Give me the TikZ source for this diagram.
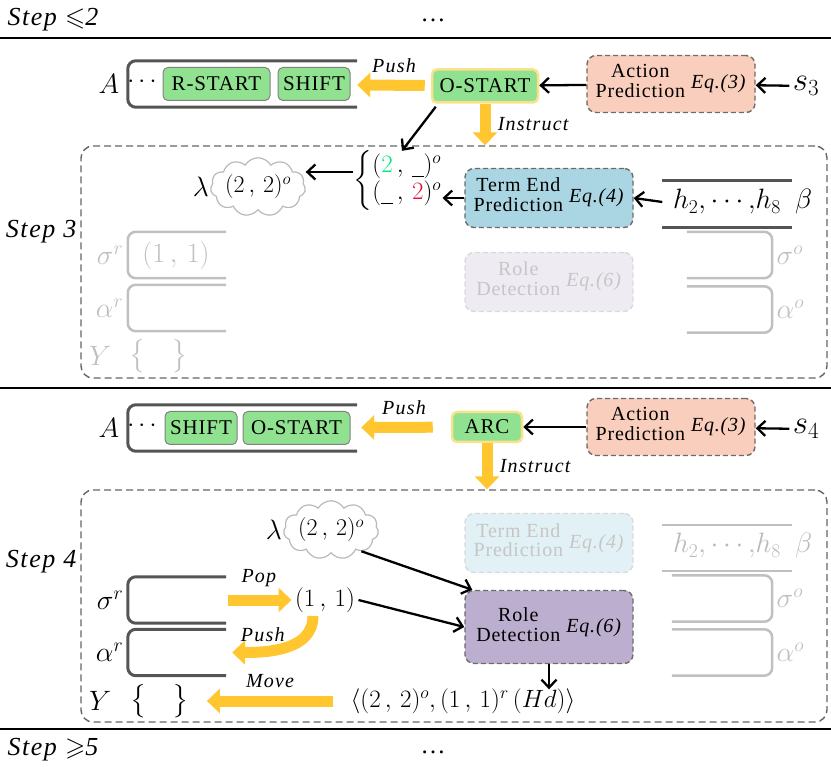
\RequirePackage{fix-cm}
\documentclass[tikz,border=0pt]{standalone}
\usepackage{amsmath,amssymb}
\usepackage{fontspec}
\setmainfont{Liberation Serif}
\newfontfamily\boxfont[LetterSpace=4]{Liberation Serif}
\newfontfamily\verbfont[LetterSpace=6]{Liberation Serif}
\definecolor{ActGreen}{RGB}{144,226,144}
\definecolor{PushGold}{RGB}{255,198,48}
\definecolor{GlowYellow}{RGB}{250,226,140}
\definecolor{ActSalmon}{RGB}{249,206,188}
\definecolor{TermBlue}{RGB}{170,214,228}
\definecolor{RolePurple}{RGB}{188,174,206}
\definecolor{FrameGray}{RGB}{85,85,85}
\definecolor{FadeGray}{RGB}{192,192,192}
\definecolor{SpringGreen}{RGB}{0,232,120}
\definecolor{CrimsonRed}{RGB}{225,20,60}
\usetikzlibrary{arrows.meta,positioning,shapes.symbols}
\newcommand{\modtext}[2]{\begin{tabular}{@{}c@{}}#1\end{tabular}\hspace{6pt}\textit{#2}}
\newcommand{\pc}{\,,\,}
\tikzset{
  actbox/.style={draw=gray, fill=ActGreen, rounded corners=5pt, line width=1pt,
    inner sep=1pt, minimum height=33pt, font=\boxfont\fontsize{21}{22}\selectfont},
  curbox/.style={actbox, draw=GlowYellow, line width=2.5pt},
  modbox/.style={draw=gray!85!black, dash pattern=on 5pt off 3pt, rounded corners=9pt,
    line width=1.4pt, minimum width=168pt, minimum height=59pt, inner sep=0pt,
    font=\boxfont\fontsize{20}{20}\selectfont},
  fadebox/.style={modbox, draw=gray!30, text=gray!45},
  stepframe/.style={draw=gray!80!black, dash pattern=on 7pt off 4pt, rounded corners=12pt,
    line width=1.4pt, minimum width=746pt, minimum height=232pt},
  stackline/.style={draw=FrameGray, line width=3pt, rounded corners=8pt},
  fadestack/.style={draw=FadeGray, line width=2.5pt, rounded corners=8pt},
  stackbox/.style={minimum width=98pt, minimum height=46pt, inner sep=0pt},
  yarrow/.style={draw=PushGold, line width=11pt, -{Triangle[width=24pt,length=13pt]}},
  karrow/.style={draw=black, line width=2.3pt, -{Straight Barb[length=8pt,width=15pt]}},
  steplabel/.style={font=\verbfont\fontsize{26}{28}\selectfont\itshape},
  verb/.style={font=\verbfont\fontsize{20}{22}\selectfont\itshape},
  mathtext/.style={font=\fontsize{25}{27}\selectfont},
  bigmath/.style={font=\fontsize{28}{30}\selectfont},
  hugemath/.style={font=\fontsize{33}{35}\selectfont},
  cloudbox/.style={cloud, cloud puffs=11, cloud puff arc=120, aspect=1.9, draw=gray!55,
    line width=1.2pt, inner sep=-2pt, minimum width=95pt, minimum height=50pt,
    font=\fontsize{24}{26}\selectfont},
}

\begin{document}
\begin{tikzpicture}[x=1pt,y=-1pt]
\useasboundingbox (0,0) rectangle (831,767);

% separators between the steps
\draw[line width=2.5pt] (0,38) -- (831,38);
\draw[line width=2.5pt] (0,388) -- (831,388);
\draw[line width=2.5pt] (0,729) -- (831,729);
\node[steplabel, anchor=west] (step2) at (4,20) {Step \(\leqslant\)2};
\node[mathtext, anchor=base] (dots2) at (433,22) {\dots};
\node[steplabel, anchor=west] (step5) at (4,750) {Step \(\geqslant\)5};
\node[mathtext, anchor=base] (dots5) at (433,753) {\dots};

% ---------- step 3 ----------
\node[stackbox, minimum width=229pt] (stackA3) at (242.5,84) {};
\draw[stackline] (stackA3.north east) -- (stackA3.north west) -- (stackA3.south west) -- (stackA3.south east);
\node[bigmath, left=5pt of stackA3] (labA3) {$A$};
\node[mathtext] (dotsA3) at (144,82) {$\cdots$};
\node[actbox, minimum width=107pt] (rs3) at (216.5,84) {R-START};
\node[actbox, minimum width=72pt] (sh3) at (314,84) {SHIFT};
\node[curbox, minimum width=106pt] (ost3) at (485,86) {O-START};
\node[modbox, fill=ActSalmon, minimum height=57pt] (ap3) at (671,84) {\modtext{Action\\Prediction}{Eq.(3)}};
\node[hugemath] (s3) at (806,86) {$s_3$};
\draw[karrow] (s3) -- (ap3);
\draw[karrow] (ap3) -- (ost3);
\draw[yarrow, shorten <=6pt] (ost3) -- node[above=4pt, verb] (push3) {Push} (stackA3);

\node[stepframe] (frame3) at (454,262) {};
\node[steplabel, anchor=east] (step3) at (80,232) {Step 3};
\draw[yarrow] (ost3.south) -- node[right=4pt, verb] (instr3) {Instruct} (ost3.south |- frame3.north);

\node[mathtext, inner sep=0pt] (ends3) at (398,181) {$\left\{\begin{array}{@{}l@{}}(\textcolor{SpringGreen}{2}\pc\underline{\hphantom{2}})^o\\(\underline{\hphantom{2}}\pc\textcolor{CrimsonRed}{2})^o\end{array}\right.$};
\draw[karrow] ([xshift=5pt,yshift=-3pt]ost3.south west) -- ([xshift=4pt]ends3.north);
\node[cloudbox] (cl3) at (258,187) {$(2\pc 2)^o$};
\node[bigmath, left=-2pt of cl3] (lam3) {$\lambda$};
\draw[karrow] ([yshift=9pt]ends3.west) -- ([yshift=9pt]ends3.west -| cl3.east);

\node[modbox, fill=TermBlue] (tep3) at (549,198) {\modtext{Term End\\Prediction}{Eq.(4)}};
\node[bigmath, minimum width=129pt, minimum height=46pt, inner sep=0pt] (hmem3) at (727,202) {$h_2{,}\cdots{,}h_8$};
\draw[stackline] ([yshift=-2pt]hmem3.north west) -- ([yshift=-2pt]hmem3.north east);
\draw[stackline] ([yshift=-2pt]hmem3.south west) -- ([yshift=-2pt]hmem3.south east);
\node[bigmath, right=0pt of hmem3] (beta3) {$\beta$};
\draw[karrow] (hmem3.west) -- (tep3.east);
\draw[karrow] (tep3.west) -- (tep3.west -| ends3.east);

% faded memories in step 3
\node[stackbox] (sr3) at (177,255) {};
\draw[fadestack] (sr3.north east) -- (sr3.north west) -- (sr3.south west) -- (sr3.south east);
\node[bigmath, text=FadeGray] (p11f3) at (176,256) {$(1\pc 1)$};
\node[bigmath, text=FadeGray, left=1pt of sr3] (labsr3) {$\sigma^r$};
\node[stackbox] (ar3) at (177,308) {};
\draw[fadestack] (ar3.north east) -- (ar3.north west) -- (ar3.south west) -- (ar3.south east);
\node[bigmath, text=FadeGray, left=1pt of ar3] (labar3) {$\alpha^r$};
\node[bigmath, text=FadeGray] (y3) at (100,356) {$Y$};
\node[bigmath, text=FadeGray] (yb3) at (159,356) {$\big\{\hspace{26pt}\big\}$};
\node[fadebox, fill=RolePurple!25] (rd3) at (549,282) {\modtext{Role\\Detection}{Eq.(6)}};
\node[stackbox, minimum width=85pt] (so3) at (729.5,255) {};
\draw[fadestack] (so3.north west) -- (so3.north east) -- (so3.south east) -- (so3.south west);
\node[bigmath, text=FadeGray, right=1pt of so3] (labso3) {$\sigma^o$};
\node[stackbox, minimum width=85pt] (ao3) at (729.5,309.5) {};
\draw[fadestack] (ao3.north west) -- (ao3.north east) -- (ao3.south east) -- (ao3.south west);
\node[bigmath, text=FadeGray, right=1pt of ao3] (labao3) {$\alpha^o$};

% ---------- step 4 ----------
\node[stackbox, minimum width=229pt] (stackA4) at (242.5,428) {};
\draw[stackline] (stackA4.north east) -- (stackA4.north west) -- (stackA4.south west) -- (stackA4.south east);
\node[bigmath, left=5pt of stackA4] (labA4) {$A$};
\node[mathtext] (dotsA4) at (144,426) {$\cdots$};
\node[actbox, minimum width=72pt] (sh4) at (201,428) {SHIFT};
\node[actbox, minimum width=107pt] (os4) at (296.5,428) {O-START};
\node[curbox, minimum width=70pt, minimum height=30pt] (arc4) at (487,427) {ARC};
\node[modbox, fill=ActSalmon, minimum height=57pt] (ap4) at (671,427) {\modtext{Action\\Prediction}{Eq.(3)}};
\node[hugemath] (s4) at (806,429) {$s_4$};
\draw[karrow] (s4) -- (ap4);
\draw[karrow] (ap4) -- (arc4);
\draw[yarrow, shorten <=18pt, shorten >=4pt] (arc4) -- node[above=4pt, verb] (push4) {Push} (stackA4);

\node[stepframe] (frame4) at (454,606) {};
\node[steplabel, anchor=east] (step4) at (80,562) {Step 4};
\draw[yarrow] (arc4.south) -- node[right=4pt, verb] (instr4) {Instruct} (arc4.south |- frame4.north);

\node[cloudbox] (cl4) at (331,530) {$(2\pc 2)^o$};
\node[bigmath, left=-2pt of cl4] (lam4) {$\lambda$};

\node[fadebox, fill=TermBlue!35] (tep4) at (549,543) {\modtext{Term End\\Prediction}{Eq.(4)}};
\node[bigmath, text=gray!55, minimum width=129pt, minimum height=46pt, inner sep=0pt] (hmem4) at (727,546) {$h_2{,}\cdots{,}h_8$};
\draw[fadestack] ([yshift=-2pt]hmem4.north west) -- ([yshift=-2pt]hmem4.north east);
\draw[fadestack] ([yshift=-2pt]hmem4.south west) -- ([yshift=-2pt]hmem4.south east);
\node[bigmath, text=gray!55, right=0pt of hmem4] (beta4) {$\beta$};
\node[stackbox, minimum width=100pt] (so4) at (722,598.5) {};
\draw[fadestack] (so4.north west) -- (so4.north east) -- (so4.south east) -- (so4.south west);
\node[bigmath, text=FadeGray, right=1pt of so4] (labso4) {$\sigma^o$};
\node[stackbox, minimum width=100pt] (ao4) at (722,652.5) {};
\draw[fadestack] (ao4.north west) -- (ao4.north east) -- (ao4.south east) -- (ao4.south west);
\node[bigmath, text=FadeGray, right=1pt of ao4] (labao4) {$\alpha^o$};

\node[modbox, fill=RolePurple, minimum height=73pt] (rd4) at (549,627) {\modtext{Role\\Detection}{Eq.(6)}};

\node[stackbox] (sr4) at (177,600) {};
\draw[stackline] (sr4.north east) -- (sr4.north west) -- (sr4.south west) -- (sr4.south east);
\node[bigmath, left=1pt of sr4] (labsr4) {$\sigma^r$};
\node[stackbox] (ar4) at (177,652.5) {};
\draw[stackline] (ar4.north east) -- (ar4.north west) -- (ar4.south west) -- (ar4.south east);
\node[bigmath, left=1pt of ar4] (labar4) {$\alpha^r$};
\node[bigmath] (y4) at (100,701) {$Y$};
\node[bigmath] (yb4) at (160,701) {$\big\{\hspace{26pt}\big\}$};

\node[mathtext] (p11) at (325,600) {$(1\pc 1)$};
\node[mathtext, inner ysep=1pt] (tup4) at (463,701) {$\langle(2\pc 2)^o{,}\,(1\pc 1)^r\,(Hd)\rangle$};

\draw[yarrow, shorten <=2pt] (sr4.east) -- node[above=4pt, verb] (pop4) {Pop} (p11.west);
\draw[yarrow] ([xshift=-12pt]p11.south) to[out=-90, in=0] node[pos=0.72, above=1pt, verb] (pushr4) {Push} ([xshift=6pt]ar4.east);
\draw[yarrow, shorten <=14pt, shorten >=14pt] (tup4.west) -- node[above=4pt, verb] (move4) {Move} (yb4.east);
\draw[karrow] (cl4.-35) -- ([xshift=8pt]rd4.north west);
\draw[karrow] (p11.east) -- (rd4.west);
\draw[karrow] (rd4.south) -- ([yshift=-2pt]rd4.south |- tup4.north);
\end{tikzpicture}
\end{document}
